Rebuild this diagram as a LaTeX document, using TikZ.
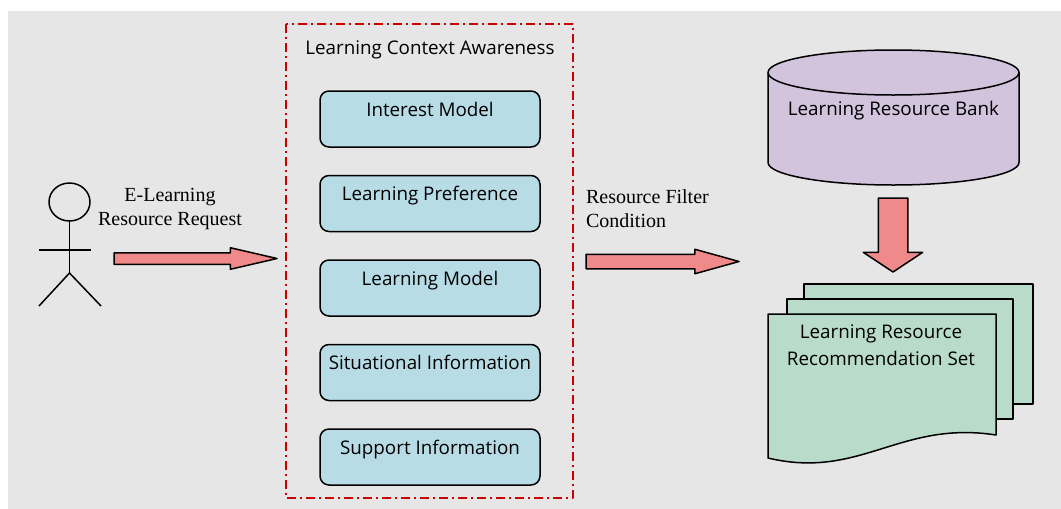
\documentclass[tikz,border=0pt]{standalone}
\usepackage{fontspec}
\setmainfont{Open Sans}
\newfontfamily\tnr{Liberation Serif}
\usetikzlibrary{positioning}
\usetikzlibrary{shapes.arrows}
\definecolor{bggray}{RGB}{230,230,230}
\definecolor{boxblue}{RGB}{184,220,230}
\definecolor{arrowpink}{RGB}{240,138,138}
\definecolor{bankpurple}{RGB}{211,196,221}
\definecolor{setgreen}{RGB}{185,220,202}
\definecolor{framered}{RGB}{204,0,0}
\begin{document}
\begin{tikzpicture}[x=1pt,y=-1pt,line width=1.5pt,line join=round,
	ctx/.style={draw,rounded corners=9pt,fill=boxblue,minimum width=220pt,
		text height=25pt,text depth=31pt,inner ysep=0pt,font=\fontsize{18.8}{22}\selectfont},
	fat/.style={single arrow,draw,fill=arrowpink,inner xsep=0pt,outer sep=0pt,
		single arrow head indent=0pt,anchor=tip},
	lbl/.style={font=\tnr\fontsize{20}{24}\selectfont}]
	\tikzstyle{sans}=[font=\fontsize{18.8}{27}\selectfont]
	
	\useasboundingbox (0,0) rectangle (1061,509);
	\fill[bggray] (8,11) rectangle (1061,509);
	
	% learner
	\draw (69.5,202) ellipse (20.5 and 19);
	\draw (69.5,221) -- (69.5,273) (39,250) -- (91,250);
	\draw (39,306) -- (69.5,273) -- (101,306);
	
	% context awareness
	\draw[framered,line width=2pt,dash pattern=on 9pt off 4pt on 2pt off 4pt]
		(286,24) rectangle (573,498);
	\node[sans] (lca) at (430,50) {Learning Context Awareness};
	\node[ctx] (interest) at (430,119) {Interest Model};
	\node[ctx,below=27pt of interest] (pref) {Learning Preference};
	\node[ctx,below=27pt of pref] (model) {Learning Model};
	\node[ctx,below=27pt of model] (situ) {Situational Information};
	\node[ctx,below=27pt of situ] (support) {Support Information};
	
	% resource bank
	\draw[fill=bankpurple] (768,72.5) -- (768,162.5) arc (180:0:125.5 and 22.5)
		-- (1019,72.5) arc (0:-180:125.5 and 22.5) -- cycle;
	\draw (768,72.5) arc (180:0:125.5 and 22.5);
	\node[sans] (bank) at (893.5,111) {Learning Resource Bank};
	
	% recommendation set
	\draw[fill=setgreen] (804,284) rectangle (1033,404);
	\draw[fill=setgreen] (787,299) rectangle (1013,419);
	\draw[fill=setgreen] (768,314) -- (996,314) -- (996,435)
		.. controls (900,420) and (860,480) .. (768,458) -- cycle;
	\node[sans,align=center] (recset) at (881,345) {Learning Resource\\Recommendation Set};
	
	% block arrows
	\node[fat,minimum height=163pt,inner ysep=5pt,single arrow head extend=5pt,
		single arrow tip angle=26] (req) at (277,258.5) {};
	\node[fat,minimum height=153pt,inner ysep=6.5pt,single arrow head extend=5pt,
		single arrow tip angle=31] (filter) at (739,261.5) {};
	\node[fat,rotate=-90,minimum height=74pt,inner ysep=14pt,single arrow head extend=15pt,
		single arrow tip angle=113] (fetch) at (893,272) {};
	
	\node[lbl,align=center] (reqtext) at (170,209) {E-Learning\\Resource Request};
	\node[lbl,align=left,anchor=west] (filtertext) at (582,209) {Resource Filter\\Condition};
\end{tikzpicture}
\end{document}
